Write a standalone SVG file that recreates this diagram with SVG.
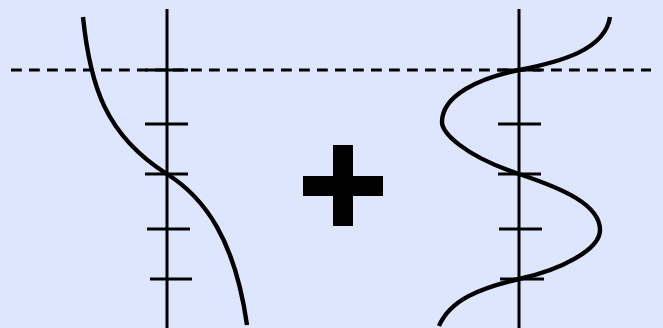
<svg xmlns="http://www.w3.org/2000/svg" width="663" height="328" viewBox="0 0 663 328">
  <style>
    .axis { stroke: #000; stroke-width: 3; fill: none; }
    .tick { stroke: #000; stroke-width: 3; fill: none; }
    .curve { stroke: #000; stroke-width: 4.4; fill: none; stroke-linecap: butt; stroke-linejoin: round; }
    .dash { stroke: #000; stroke-width: 3; stroke-dasharray: 10.8 7.2; fill: none; }
  </style>
  <rect x="0" y="0" width="663" height="328" fill="#dee6fd"/>
  <g id="left-axis">
    <line class="axis" x1="167" y1="9" x2="167" y2="328"/>
    <line class="tick" x1="145" y1="70" x2="188" y2="70"/>
    <line class="tick" x1="145" y1="124" x2="188" y2="124"/>
    <line class="tick" x1="145" y1="174" x2="188" y2="174"/>
    <line class="tick" x1="147" y1="229" x2="190" y2="229"/>
    <line class="tick" x1="150" y1="279" x2="192" y2="279"/>
  </g>
  <g id="right-axis">
    <line class="axis" x1="519" y1="9" x2="519" y2="328"/>
    <line class="tick" x1="498" y1="70" x2="541" y2="70"/>
    <line class="tick" x1="498" y1="124" x2="541" y2="124"/>
    <line class="tick" x1="498" y1="174" x2="541" y2="174"/>
    <line class="tick" x1="499" y1="229" x2="542" y2="229"/>
    <line class="tick" x1="500" y1="279" x2="544" y2="279"/>
  </g>
  <g id="dashed-line">
    <line class="dash" x1="11" y1="70" x2="651" y2="70"/>
  </g>
  <g id="left-curve">
    <path class="curve" d="M83,17 C90,85 105,135 167,174 C205,198 235,240 247,325"/>
  </g>
  <g id="right-curve">
    <path class="curve" d="M610,17 C605,50 560,62 519,70 C480,78 442,95 442,122 C442,132 462,155 519,174 C564,189 600,205 600,230 C600,250 560,270 519,279 C480,288 450,300 439,326"/>
  </g>
  <g id="plus">
    <rect x="333" y="145" width="20" height="81" fill="#000"/>
    <rect x="303" y="176" width="80" height="20" fill="#000"/>
  </g>
</svg>
